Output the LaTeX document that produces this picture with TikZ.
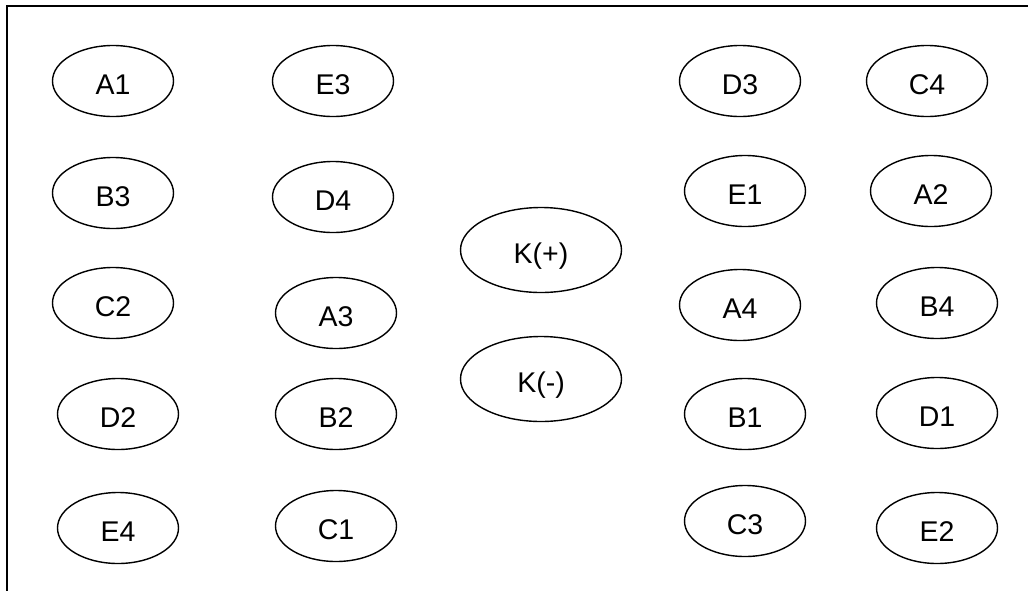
\documentclass[tikz,border=0pt]{standalone}
\usepackage{fontspec}
\setmainfont{Liberation Sans}
\usetikzlibrary{shapes.geometric}
\begin{document}
\begin{tikzpicture}[x=1pt,y=-1pt,
  cell/.style={draw, line width=1.4pt, ellipse, minimum width=121pt, minimum height=71pt, inner sep=0pt,
    font=\fontsize{28.5}{32}\selectfont, text height=26pt, text depth=0pt},
  kcell/.style={cell, minimum width=161pt, minimum height=85pt}]
\useasboundingbox (0,0) rectangle (1028,590);
\draw[line width=2.4pt] (7,600) -- (7,6) -- (1040,6);
% column 1
\node[cell] (A1) at (113,81) {A1};
\node[cell] (B3) at (113,193) {B3};
\node[cell] (C2) at (113,303) {C2};
\node[cell] (D2) at (118,414) {D2};
\node[cell] (E4) at (118,528) {E4};
% column 2
\node[cell] (E3) at (333,81) {E3};
\node[cell] (D4) at (333,197) {D4};
\node[cell] (A3) at (336,313) {A3};
\node[cell] (B2) at (336,414) {B2};
\node[cell] (C1) at (336,526) {C1};
% centre
\node[kcell] (Kp) at (541,250) {K(+)};
\node[kcell] (Km) at (541,379) {K(-)};
% column 3
\node[cell] (D3) at (740,81) {D3};
\node[cell] (E1) at (745,191) {E1};
\node[cell] (A4) at (740,305) {A4};
\node[cell] (B1) at (745,414) {B1};
\node[cell] (C3) at (745,521) {C3};
% column 4
\node[cell] (C4) at (927,81) {C4};
\node[cell] (A2) at (931,191) {A2};
\node[cell] (B4) at (937,303) {B4};
\node[cell] (D1) at (937,413) {D1};
\node[cell] (E2) at (937,528) {E2};
\end{tikzpicture}
\end{document}
